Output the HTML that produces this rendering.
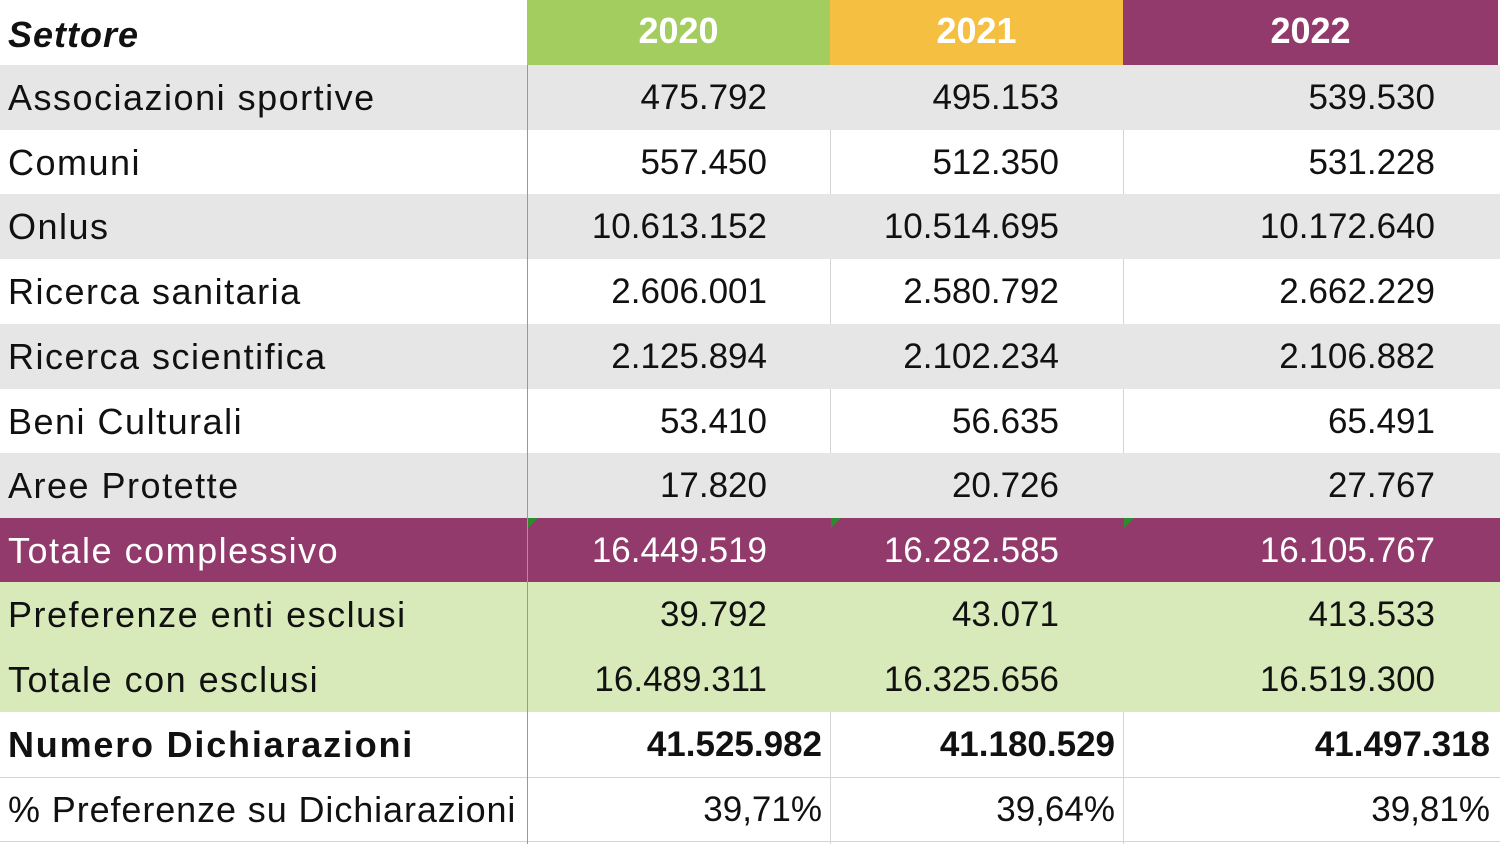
<!DOCTYPE html>
<html><head><meta charset="utf-8"><style>
body{margin:0;width:1500px;height:844px;background:#fff;overflow:hidden;position:relative;font-family:"Liberation Sans",sans-serif;}
.r{position:absolute;left:0;width:1500px;height:65px}
.t{position:absolute;font-size:35px;line-height:65px;white-space:nowrap;color:#111}
.n{text-align:right}
.vl{position:absolute;width:1px}
.hl{position:absolute;height:1px;background:#d4d4d4}
</style></head><body>
<div class="r" style="top:0;background:#fff"></div>
<div style="position:absolute;left:527px;top:0;width:303px;height:65px;background:#a3cd5e"></div>
<div style="position:absolute;left:830px;top:0;width:293px;height:65px;background:#f5bf41"></div>
<div style="position:absolute;left:1123px;top:0;width:375px;height:65px;background:#933a6c"></div>
<div class="t" style="left:8px;top:2px;font-weight:bold;font-style:italic;font-size:36px;letter-spacing:1px">Settore</div>
<div class="t" style="left:527px;width:303px;text-align:center;top:-2px;color:#fff;font-weight:bold;font-size:36px">2020</div>
<div class="t" style="left:830px;width:293px;text-align:center;top:-2px;color:#fff;font-weight:bold;font-size:36px">2021</div>
<div class="t" style="left:1123px;width:375px;text-align:center;top:-2px;color:#fff;font-weight:bold;font-size:36px">2022</div>

<div class="r" style="top:65px;background:#e6e6e6"></div>
<div class="r" style="top:194px;background:#e6e6e6"></div>
<div class="r" style="top:324px;background:#e6e6e6"></div>
<div class="r" style="top:453px;background:#e6e6e6"></div>
<div class="r" style="top:518px;background:#933a6c"></div>
<div class="r" style="top:582px;height:130px;background:#d8eab9"></div>

<div class="hl" style="left:0;top:777px;width:1500px"></div>
<div class="hl" style="left:0;top:841px;width:1500px"></div>

<div class="vl" style="left:527px;top:65px;height:779px;background:#999"></div>
<div class="vl" style="left:830px;top:130px;height:64px;background:#d4d4d4"></div>
<div class="vl" style="left:1123px;top:130px;height:64px;background:#d4d4d4"></div>
<div class="vl" style="left:830px;top:259px;height:65px;background:#d4d4d4"></div>
<div class="vl" style="left:1123px;top:259px;height:65px;background:#d4d4d4"></div>
<div class="vl" style="left:830px;top:389px;height:64px;background:#d4d4d4"></div>
<div class="vl" style="left:1123px;top:389px;height:64px;background:#d4d4d4"></div>
<div class="vl" style="left:830px;top:712px;height:132px;background:#d4d4d4"></div>
<div class="vl" style="left:1123px;top:712px;height:132px;background:#d4d4d4"></div>

<div style="position:absolute;left:528px;top:518px;border-top:10px solid #2e8b2e;border-right:10px solid transparent"></div>
<div style="position:absolute;left:831px;top:518px;border-top:10px solid #2e8b2e;border-right:10px solid transparent"></div>
<div style="position:absolute;left:1124px;top:518px;border-top:10px solid #2e8b2e;border-right:10px solid transparent"></div>

<div id="rows"></div>
<script>
var d=[
["Associazioni sportive","475.792","495.153","539.530",65],
["Comuni","557.450","512.350","531.228",130],
["Onlus","10.613.152","10.514.695","10.172.640",194],
["Ricerca sanitaria","2.606.001","2.580.792","2.662.229",259],
["Ricerca scientifica","2.125.894","2.102.234","2.106.882",324],
["Beni Culturali","53.410","56.635","65.491",389],
["Aree Protette","17.820","20.726","27.767",453],
["Totale complessivo","16.449.519","16.282.585","16.105.767",518,"#fff"],
["Preferenze enti esclusi","39.792","43.071","413.533",582],
["Totale con esclusi","16.489.311","16.325.656","16.519.300",647],
["Numero Dichiarazioni","41.525.982","41.180.529","41.497.318",712,"#111",1],
["% Preferenze su Dichiarazioni","39,71%","39,64%","39,81%",777,"#111",2]];
var h="";
d.forEach(function(r){
 var c=r[5]||"#111",w=r[6]==1?"font-weight:bold;":"";
 var ends=r[6]?[822,1115,1490]:[767,1059,1435];
 var ls=r[6]==1?'1.8px':(r[6]==2?'0.9px':'1.5px');
 h+='<div class="t" style="left:8px;top:'+r[4]+'px;color:'+c+';'+w+'font-size:36px;letter-spacing:'+ls+'">'+r[0]+'</div>';
 for(var i=0;i<3;i++)h+='<div class="t n" style="left:'+(ends[i]-300)+'px;width:300px;top:'+r[4]+'px;color:'+c+';'+w+'">'+r[i+1]+'</div>';
});
document.getElementById("rows").innerHTML=h;
</script>
</body></html>
